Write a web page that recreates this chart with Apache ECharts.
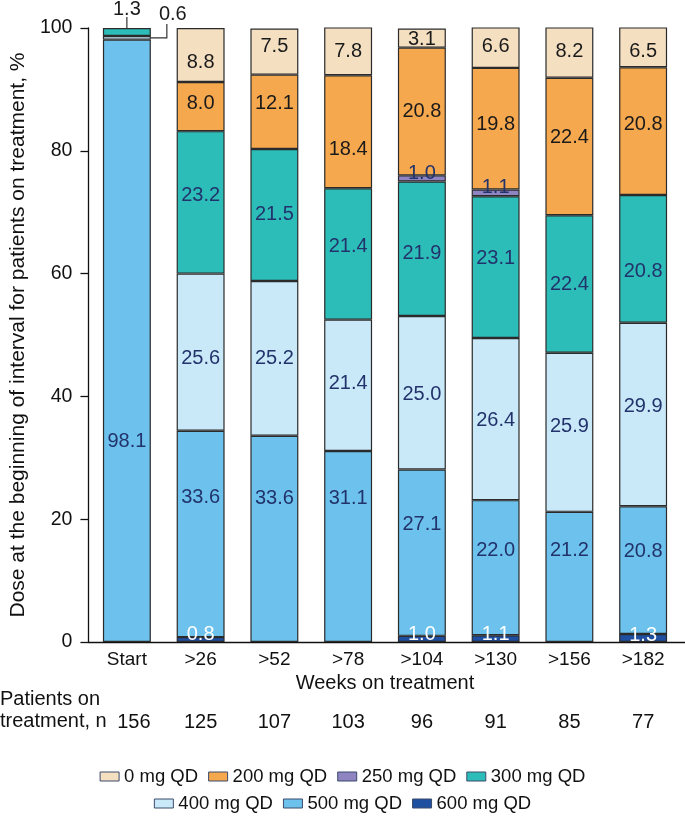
<!DOCTYPE html>
<html><head><meta charset="utf-8">
<script src="https://cdn.jsdelivr.net/npm/echarts@6/dist/echarts.min.js"></script>
<style>html,body{margin:0;padding:0;background:#fff}#c{width:685px;height:817px}</style>
</head><body><div id="c"></div>
<script>
// ---- data ----
const categories = ['Start', '>26', '>52', '>78', '>104', '>130', '>156', '>182'];
const patientsN = [156, 125, 107, 103, 96, 91, 85, 77];
const dose600 = [0, 0.8, 0, 0, 1.0, 1.1, 0, 1.3];
const dose500 = [98.1, 33.6, 33.6, 31.1, 27.1, 22.0, 21.2, 20.8];
const dose400 = [0.6, 25.6, 25.2, 21.4, 25.0, 26.4, 25.9, 29.9];
const dose300 = [1.3, 23.2, 21.5, 21.4, 21.9, 23.1, 22.4, 20.8];
const dose250 = [0, 0, 0, 0, 1.0, 1.1, 0, 0];
const dose200 = [0, 8.0, 12.1, 18.4, 20.8, 19.8, 22.4, 20.8];
const dose0 = [0, 8.8, 7.5, 7.8, 3.1, 6.6, 8.2, 6.5];
const yTicks = [0, 20, 40, 60, 80, 100];

// ---- styling ----
const NAVY = '#22336b', DARK = '#1a1a1a';
const seriesDefs = [
  { name: '600 mg QD', data: dose600, color: '#1f4fa0', label: '#ffffff' },
  { name: '500 mg QD', data: dose500, color: '#6cc2ec', label: NAVY },
  { name: '400 mg QD', data: dose400, color: '#c9e9f9', label: NAVY },
  { name: '300 mg QD', data: dose300, color: '#2dbdb9', label: NAVY },
  { name: '250 mg QD', data: dose250, color: '#8e84c2', label: NAVY },
  { name: '200 mg QD', data: dose200, color: '#f6a84e', label: DARK },
  { name: '0 mg QD', data: dose0, color: '#f5dfc1', label: DARK }
];
// pixel nudges for label placement (matching the reference layout)
const labelNudge = {
  '600 mg QD': [0, -5, 0, 0, -4, -4, 0, -3],
  '500 mg QD': [101, -36, -40, -48, -28, -17, -26, -19],
  '400 mg QD': [0, 6, 0, -2, 2, 1, -6, -8],
  '300 mg QD': [0, -7, 0, -7, 5, -9, 0, 13],
  '250 mg QD': [0, 0, 0, 0, -5, -5, 0, 0],
  '200 mg QD': [0, -3, -8, 18, 0, -4, -9, -7],
  '0 mg QD': [0, 7, -5, 0, 1, -1, -1, 4]
};
// Start-column small segments get external callouts
const calloutSeries = ['400 mg QD', '300 mg QD'];

const FONT = 'Liberation Sans, Arial, sans-serif';
const chart = echarts.init(document.getElementById('c'), null, { renderer: 'canvas' });

const series = seriesDefs.map(def => ({
  name: def.name,
  type: 'bar',
  stack: 'dose',
  xAxisIndex: 0, yAxisIndex: 0,
  barCategoryGap: '35%',
  itemStyle: { color: def.color, borderColor: '#2b2b2b', borderWidth: 1.2 },
  data: def.data.map((v, i) => {
    if (!v) return '-';
    const hide = i === 0 && calloutSeries.includes(def.name);
    return {
      value: v,
      label: { show: !hide, offset: [0, labelNudge[def.name][i]] }
    };
  }),
  label: {
    show: true, position: 'inside', color: def.label,
    fontFamily: FONT, fontSize: 20,
    formatter: p => Number(p.value).toFixed(1)
  },
  emphasis: { disabled: true }
}));

const yMin = yTicks[0], yMax = yTicks[yTicks.length - 1], yStep = yTicks[1] - yTicks[0];
const option = {
  animation: false,
  backgroundColor: '#fff',
  textStyle: { fontFamily: FONT },
  grid: [
    { left: 90, right: 5, top: 28, bottom: 175 },
    { left: 82, right: 0, top: 28, bottom: 175 }
  ],
  xAxis: [{
    gridIndex: 0, type: 'category', data: categories,
    axisLine: { show: false },
    axisTick: { show: false },
    axisLabel: { color: '#111', fontSize: 19, margin: 8, fontFamily: FONT },
    name: 'Weeks on treatment', nameLocation: 'middle', nameGap: 27,
    nameTextStyle: { color: '#111', fontSize: 20, fontFamily: FONT }
  }, {
    gridIndex: 0, type: 'category', position: 'bottom', offset: 62,
    data: patientsN.map((n, i) => i === 0
      ? { value: String(n), textStyle: { padding: [0, 0, 0, 14] } }
      : String(n)),
    axisLine: { show: false }, axisTick: { show: false },
    axisLabel: { color: '#111', fontSize: 20, margin: 8, fontFamily: FONT }
  }, {
    gridIndex: 1, type: 'value', min: 0, max: 1, show: true,
    axisLine: { show: true, onZero: false, lineStyle: { color: '#111', width: 1.3 } },
    axisTick: { show: false }, axisLabel: { show: false }, splitLine: { show: false }
  }],
  yAxis: [{
    gridIndex: 0, type: 'value', min: yMin, max: yMax, interval: yStep, show: false
  }, {
    gridIndex: 1, type: 'value', min: yMin, max: yMax, interval: yStep,
    axisLine: { show: true, lineStyle: { color: '#111', width: 1.3 } },
    axisTick: { show: true, length: 8, lineStyle: { color: '#111', width: 1.3 } },
    axisLabel: { color: '#111', fontSize: 19.5, margin: 16, fontFamily: FONT },
    splitLine: { show: false },
    name: 'Dose at the beginning of interval for patients on treatment, %',
    nameLocation: 'middle', nameGap: 53,
    nameTextStyle: { color: '#111', fontSize: 21, fontFamily: FONT }
  }],
  legend: [{
    data: ['0 mg QD', '200 mg QD', '250 mg QD', '300 mg QD'],
    left: 'center', top: 762, icon: 'rect', itemWidth: 19, itemHeight: 9, itemGap: 10,
    itemStyle: { borderColor: '#3b4a6b', borderWidth: 1 },
    textStyle: { color: '#111', fontSize: 18.5, fontFamily: FONT }
  }, {
    data: ['400 mg QD', '500 mg QD', '600 mg QD'],
    left: 'center', top: 789, icon: 'rect', itemWidth: 19, itemHeight: 9, itemGap: 10,
    itemStyle: { borderColor: '#3b4a6b', borderWidth: 1 },
    textStyle: { color: '#111', fontSize: 18.5, fontFamily: FONT }
  }],
  series: series
};
chart.setOption(option);

// callouts, positioned via the chart's own scales
const xS = chart.convertToPixel({ xAxisIndex: 0 }, 0);
const band = chart.convertToPixel({ xAxisIndex: 0 }, 1) - xS;
const halfW = band * 0.65 / 2;
const yTop = chart.convertToPixel({ yAxisIndex: 0 }, dose500[0] + dose400[0] + dose300[0]);
const y400 = chart.convertToPixel({ yAxisIndex: 0 }, dose500[0] + dose400[0] / 2);
const lineStyle = { stroke: '#333', lineWidth: 1.2 };
chart.setOption({
  graphic: [
    { type: 'line', shape: { x1: xS, y1: yTop - 11, x2: xS, y2: yTop }, style: lineStyle },
    { type: 'text', x: xS, y: yTop - 19, style: { text: dose300[0].toFixed(1), fill: DARK, font: '20px ' + FONT, align: 'center', verticalAlign: 'middle' } },
    { type: 'polyline', shape: { points: [[xS + halfW, y400], [xS + halfW + 16, y400], [xS + halfW + 16, yTop - 4]] }, style: Object.assign({ fill: null }, lineStyle) },
    { type: 'text', x: xS + halfW + 22, y: yTop - 14, style: { text: dose400[0].toFixed(1), fill: DARK, font: '20px ' + FONT, align: 'center', verticalAlign: 'middle' } },
    { type: 'text', left: 0, top: 688, style: { text: 'Patients on\ntreatment, n', fill: '#111', font: '20px ' + FONT, lineHeight: 22 } }
  ]
});
</script>
</body></html>
